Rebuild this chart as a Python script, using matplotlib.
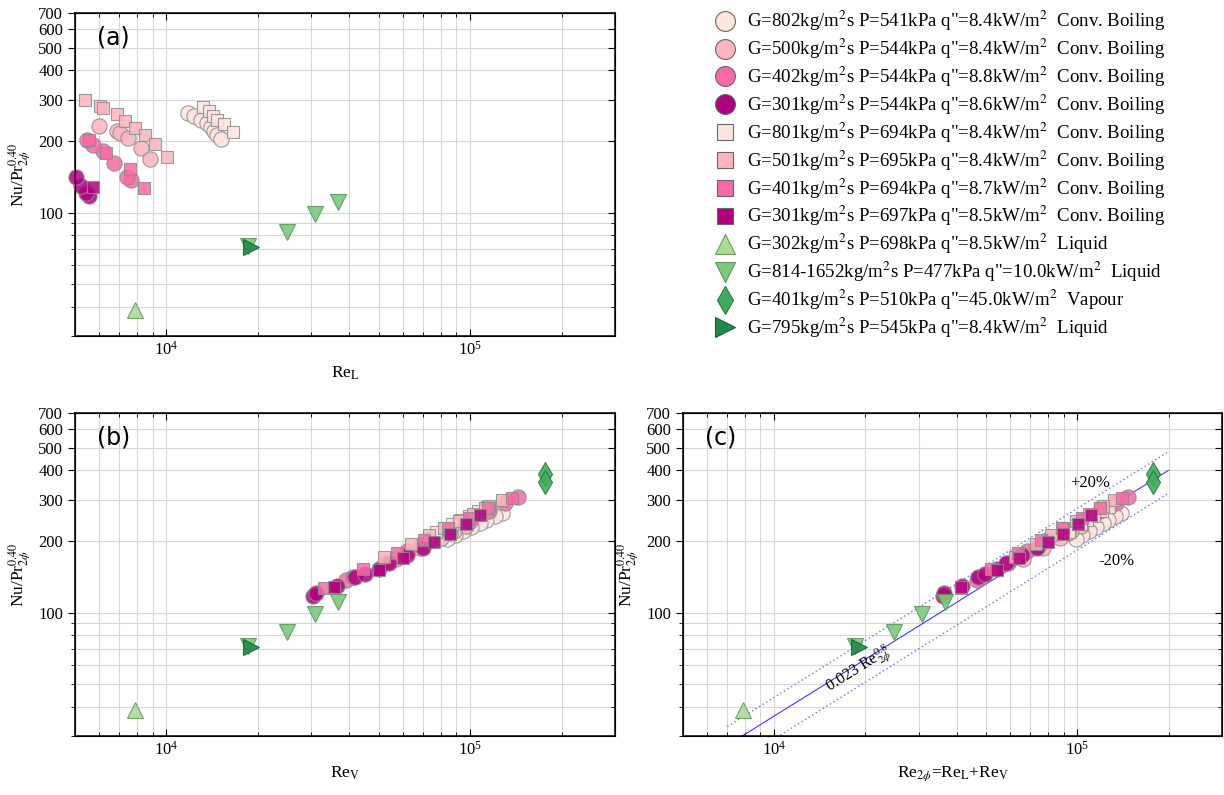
import numpy as np
import matplotlib.pyplot as plt
from matplotlib.lines import Line2D
from matplotlib.ticker import LogLocator, NullFormatter

plt.rcParams['font.family'] = ['Liberation Serif', 'DejaVu Serif']
plt.rcParams['mathtext.fontset'] = 'stix'

# two-phase runs: Re_L (panel a), Re_V (panel b), Nu/Pr^0.40
c802_rel = [11800, 12300, 13000, 13600, 14000, 14300, 14700, 15100]
c802_rev = [127000, 121000, 113000, 108000, 101000, 95000, 89000, 84000]
c802_nu = [264, 257, 247, 240, 230, 222, 213, 205]

c500_rel = [6000, 6870, 7030, 7470, 8240, 8830]
c500_rev = [96600, 88700, 86100, 79900, 68500, 57200]
c500_nu = [233, 221, 217, 207, 188, 168]

c402_rel = [7640, 7415, 6720, 6180, 5730, 5475, 4400, 4100, 3800, 3500, 3200]
c402_rev = [39000, 41000, 52500, 62000, 69000, 74000, 85000, 99700, 115000, 130700, 144000]
c402_nu = [138, 141, 162, 182, 194, 203, 222, 245, 268, 290, 308]

c301_rel = [5560, 5435, 5250, 5057, 4400, 4200, 4000, 3800, 3600]
c301_rev = [30500, 31000, 36500, 41800, 45000, 50000, 54000, 62000, 70000]
c301_nu = [117, 121, 130, 141, 146, 153, 162, 176, 188]

s801_rel = [13180, 13800, 14220, 14660, 15460, 16550]
s801_rev = [113600, 106500, 99000, 92900, 87000, 77200]
s801_nu = [280, 269, 257, 247, 237, 220]

s501_rel = [5390, 6040, 6180, 6870, 7300, 7870, 8500, 9170, 10035]
s501_rev = [127000, 115500, 112300, 102000, 91700, 81800, 73300, 63700, 52200]
s501_nu = [300, 283, 278, 262, 245, 228, 213, 195, 172]

s401_rel = [8430, 7580, 6320, 5560, 4400, 4100, 3700, 3300]
s401_rev = [33000, 44500, 57300, 70300, 84500, 99200, 114700, 137000]
s401_nu = [127, 153, 179, 203, 228, 252, 276, 305]

s301_rel = [5720, 4400, 4200, 3900, 3600, 3300, 3000]
s301_rev = [35700, 50000, 59950, 76200, 86000, 97000, 108000]
s301_nu = [128, 152, 171, 199, 215, 237, 258]

# single-phase runs (same Re used in every panel)
liq302_re = [7900]
liq302_nu = [38.7]
liq814_re = [18500, 24900, 30800, 36700]
liq814_nu = [72.5, 83, 99, 111]
vap401_re = [177000, 177000]
vap401_nu = [385, 358]
liq795_re = [19000]
liq795_nu = [71.7]

labels = [
    'G=802kg/m$^2$s P=541kPa q"=8.4kW/m$^2$  Conv. Boiling',
    'G=500kg/m$^2$s P=544kPa q"=8.4kW/m$^2$  Conv. Boiling',
    'G=402kg/m$^2$s P=544kPa q"=8.8kW/m$^2$  Conv. Boiling',
    'G=301kg/m$^2$s P=544kPa q"=8.6kW/m$^2$  Conv. Boiling',
    'G=801kg/m$^2$s P=694kPa q"=8.4kW/m$^2$  Conv. Boiling',
    'G=501kg/m$^2$s P=695kPa q"=8.4kW/m$^2$  Conv. Boiling',
    'G=401kg/m$^2$s P=694kPa q"=8.7kW/m$^2$  Conv. Boiling',
    'G=301kg/m$^2$s P=697kPa q"=8.5kW/m$^2$  Conv. Boiling',
    'G=302kg/m$^2$s P=698kPa q"=8.5kW/m$^2$  Liquid',
    'G=814-1652kg/m$^2$s P=477kPa q"=10.0kW/m$^2$  Liquid',
    'G=401kg/m$^2$s P=510kPa q"=45.0kW/m$^2$  Vapour',
    'G=795kg/m$^2$s P=545kPa q"=8.4kW/m$^2$  Liquid',
]

two_phase = [
    (c802_rel, c802_rev, c802_nu, 'o', '#fde6df'),
    (c500_rel, c500_rev, c500_nu, 'o', '#fbb5bc'),
    (c402_rel, c402_rev, c402_nu, 'o', '#f76aa5'),
    (c301_rel, c301_rev, c301_nu, 'o', '#ae017e'),
    (s801_rel, s801_rev, s801_nu, 's', '#fde6df'),
    (s501_rel, s501_rev, s501_nu, 's', '#fbb5bc'),
    (s401_rel, s401_rev, s401_nu, 's', '#f76aa5'),
    (s301_rel, s301_rev, s301_nu, 's', '#ae017e'),
]
single_phase = [
    (liq302_re, liq302_nu, '^', '#a8dc94', '#6f9a5f'),
    (liq814_re, liq814_nu, 'v', '#7cc97e', '#5a9a5a'),
    (vap401_re, vap401_nu, 'd', '#41ab5d', '#2f7a42'),
    (liq795_re, liq795_nu, '>', '#23894a', '#1a5e33'),
]
msize = {'o': 11, 's': 9, '^': 11, 'v': 11, 'd': 12, '>': 11}
legend_scale = {'o': 1.3, 's': 1.3, '^': 1.35, 'v': 1.35, 'd': 1.15, '>': 1.3}
XMIN, XMAX = 5000, 3e5

fig = plt.figure(figsize=(12.24, 7.95), dpi=100)
W, H = 1224.0, 795.0
ax_a = fig.add_axes([75 / W, 1 - 336 / H, 540 / W, 323 / H])
ax_b = fig.add_axes([75 / W, 1 - 736 / H, 540 / W, 323 / H])
ax_c = fig.add_axes([683 / W, 1 - 736 / H, 539 / W, 323 / H])


def style_axes(ax, xlabel):
    ax.set_xscale('log')
    ax.set_yscale('log')
    ax.set_xlim(XMIN, XMAX)
    ax.set_ylim(30, 700)
    ax.set_yticks([100, 200, 300, 400, 500, 600, 700])
    ax.set_yticklabels(['100', '200', '300', '400', '500', '600', '700'])
    ax.set_yticks([30, 40, 50, 60, 70, 80, 90], minor=True)
    ax.yaxis.set_minor_formatter(NullFormatter())
    ax.xaxis.set_major_locator(LogLocator(base=10))
    ax.xaxis.set_minor_locator(LogLocator(base=10, subs=np.arange(2, 10)))
    ax.xaxis.set_minor_formatter(NullFormatter())
    ax.grid(True, which='both', color='#d6d6d6', lw=0.8)
    ax.set_axisbelow(True)
    ax.tick_params(axis='x', which='both', direction='in', top=True, labelsize=12)
    ax.tick_params(axis='y', which='both', direction='out', right=False, labelsize=12)
    ax.tick_params(which='major', length=5)
    ax.tick_params(which='minor', length=3)
    for sp in ax.spines.values():
        sp.set_linewidth(1.1)
    ax.set_ylabel(r'Nu/Pr$_{2\phi}^{0.40}$', fontsize=12.5)
    ax.set_xlabel(xlabel, fontsize=12.5)
    # right side ticks point inwards
    tw = ax.twinx()
    tw.set_yscale('log')
    tw.set_ylim(30, 700)
    tw.set_yticks([100, 200, 300, 400, 500, 600, 700])
    tw.set_yticks([30, 40, 50, 60, 70, 80, 90], minor=True)
    tw.tick_params(axis='y', which='both', direction='in', labelright=False)
    tw.tick_params(which='major', length=5)
    tw.tick_params(which='minor', length=3)


style_axes(ax_a, r'Re$_\mathrm{L}$')
style_axes(ax_b, r'Re$_\mathrm{V}$')
style_axes(ax_c, r'Re$_{2\phi}$=Re$_\mathrm{L}$+Re$_\mathrm{V}$')


def draw(ax, x, y, **kw):
    # markers whose centre lies in the axes are drawn whole, the rest are left out
    x = np.asarray(x, float)
    y = np.asarray(y, float)
    keep = (x >= XMIN) & (x <= XMAX)
    ax.plot(x[keep], y[keep], ls='none', clip_on=False, **kw)


for rel, rev, nu, mk, col in two_phase:
    re2 = np.array(rel) + np.array(rev)
    for ax, x in ((ax_a, rel), (ax_b, rev), (ax_c, re2)):
        draw(ax, x, nu, marker=mk, ms=msize[mk], mfc=col, mec='#8c8c8c',
             mew=0.8, alpha=0.85, zorder=3)

for re, nu, mk, col, ec in single_phase:
    axes = (ax_b, ax_c) if mk == 'd' else (ax_a, ax_b, ax_c)
    for ax in axes:
        draw(ax, re, nu, marker=mk, ms=msize[mk], mfc=col, mec=ec,
             mew=0.8, alpha=0.9, zorder=4)

# correlation and +/-20% band
re_fit = np.logspace(np.log10(7000), np.log10(2e5), 60)
nu_fit = 0.023 * re_fit ** 0.8
ax_c.plot(re_fit, nu_fit, color='#3b3bff', lw=0.8, zorder=2)
ax_c.plot(re_fit, 1.2 * nu_fit, color='#6f6fff', lw=1.0, ls=(0, (1, 2)), zorder=2)
ax_c.plot(re_fit, 0.8 * nu_fit, color='#6f6fff', lw=1.0, ls=(0, (1, 2)), zorder=2)
ax_c.text(1.1e5, 355, '+20%', fontsize=12, ha='center', va='center')
ax_c.text(1.35e5, 165, '-20%', fontsize=12, ha='center', va='center')
ax_c.text(1.9e4, 57, r'0.023 Re$_{2\phi}^{0.8}$', fontsize=11.5, ha='center',
          va='center', rotation=32)

for ax, lab in ((ax_a, '(a)'), (ax_b, '(b)'), (ax_c, '(c)')):
    ax.text(0.04, 0.925, lab, transform=ax.transAxes, family='DejaVu Sans',
            fontsize=17, va='center', ha='left')

handles = []
for _, _, _, mk, col in two_phase:
    handles.append(Line2D([], [], ls='none', marker=mk, ms=msize[mk] * legend_scale[mk],
                          mfc=col, mec='#666666', mew=0.8))
for _, _, mk, col, ec in single_phase:
    handles.append(Line2D([], [], ls='none', marker=mk, ms=msize[mk] * legend_scale[mk],
                          mfc=col, mec=ec, mew=0.8))
fig.legend(handles, labels, loc='upper left', bbox_to_anchor=(702 / W, 1.003),
           frameon=False, fontsize=13.6, handlelength=1.2, handletextpad=0.6,
           labelspacing=0.19, borderaxespad=0.2)

fig.savefig('out.png', dpi=100)
